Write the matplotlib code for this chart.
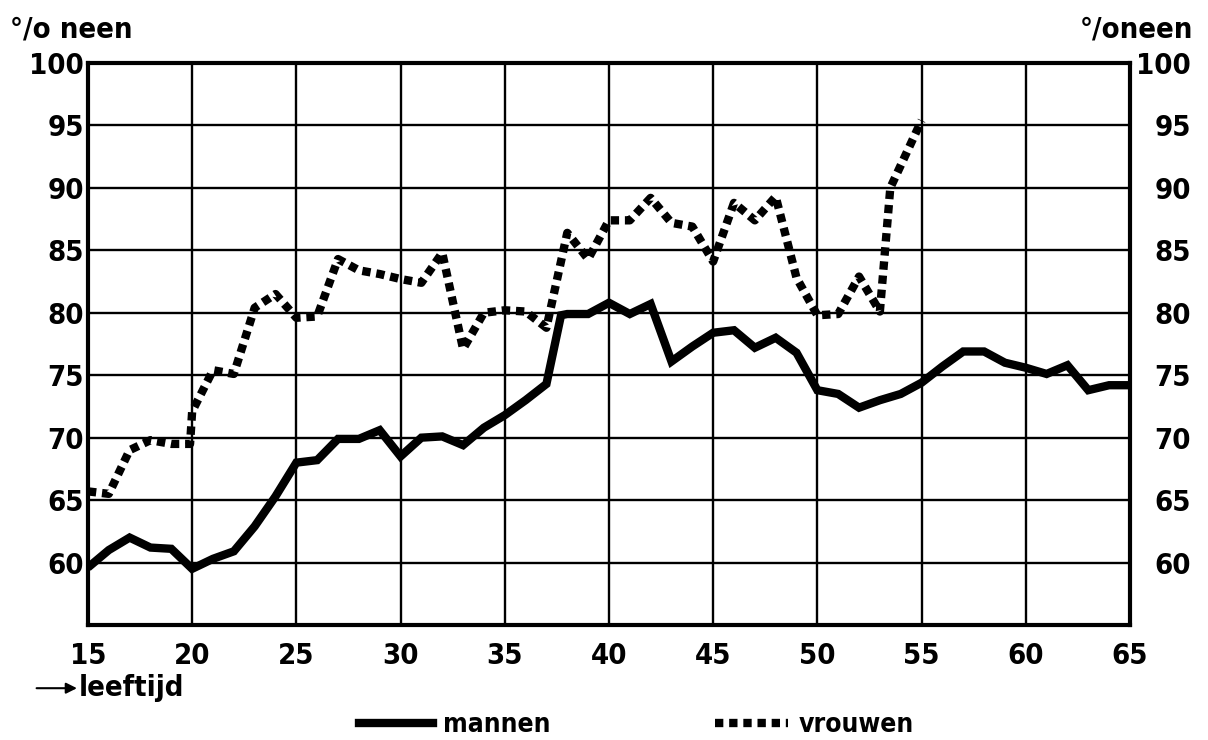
"""Percentage 'neen' by age, men versus women."""

import matplotlib.pyplot as plt
from matplotlib.lines import Line2D

# ages; a few fractional ages mark the steep jumps
ages_men = [15, 16, 17, 18, 19, 20, 21, 22, 23, 24, 25, 26, 27, 28, 29, 30,
            31, 32, 33, 34, 35, 36, 37, 37.7, 38, 39, 40, 41, 42, 43, 44, 45,
            46, 47, 48, 49, 50, 51, 52, 53, 54, 55, 56, 57, 58, 59, 60, 61,
            62, 63, 64, 65]
pct_men = [59.6, 61.0, 62.0, 61.2, 61.1, 59.5, 60.3, 60.9, 62.9, 65.3, 68.0,
           68.2, 69.9, 69.9, 70.6, 68.5, 70.0, 70.1, 69.4, 70.8, 71.8, 73.0,
           74.3, 79.8, 79.9, 79.9, 80.8, 79.9, 80.7, 76.1, 77.3, 78.4, 78.6,
           77.2, 78.0, 76.8, 73.8, 73.5, 72.4, 73.0, 73.5, 74.4, 75.7, 76.9,
           76.9, 76.0, 75.6, 75.1, 75.8, 73.8, 74.2, 74.2]

ages_women = [15, 16, 17, 18, 19, 19.9, 20, 21, 22, 23, 24, 25, 26, 27, 28,
              29, 30, 31, 32, 33, 34, 35, 36, 37, 38, 39, 40, 41, 42, 43, 44,
              45, 46, 47, 48, 49, 50, 51, 52, 53, 53.5, 54, 55]
pct_women = [65.7, 65.5, 69.0, 69.8, 69.5, 69.5, 72.1, 75.4, 75.1, 80.4, 81.5,
             79.6, 79.7, 84.3, 83.4, 83.1, 82.7, 82.4, 84.8, 77.1, 80.0, 80.2,
             80.1, 78.8, 86.4, 84.3, 87.4, 87.4, 89.2, 87.2, 86.9, 84.1, 88.8,
             87.4, 89.3, 82.8, 79.8, 79.9, 82.9, 80.1, 90.0, 91.8, 95.4]

x_ticks = list(range(15, 66, 5))
y_ticks = list(range(60, 101, 5))

plt.rcParams["font.family"] = ["DejaVu Sans"]
plt.rcParams["font.stretch"] = "condensed"
plt.rcParams["font.weight"] = "bold"

fig = plt.figure(figsize=(12.08, 7.4), dpi=100)
ax = fig.add_axes([0.0728, 0.1554, 0.8626, 0.7595])

ax.plot(ages_men, pct_men, color="black", lw=6.0, solid_joinstyle="miter",
        solid_capstyle="butt", zorder=3)
ax.plot(ages_women, pct_women, color="black", lw=6.0, ls=(0, (1.0, 0.7)),
        dash_capstyle="butt", zorder=3)

ax.set_xlim(15, 65)
ax.set_ylim(55, 100)
ax.set_xticks(x_ticks)
ax.set_yticks(y_ticks)
ax.grid(True, color="black", lw=1.7)
ax.set_axisbelow(True)
for s in ax.spines.values():
    s.set_linewidth(3.0)
ax.tick_params(axis="both", length=0, labelsize=21)
ax.tick_params(axis="x", pad=12)
ax.tick_params(axis="y", pad=3)

# right-hand scale, labels set flush right
ax2 = ax.twinx()
ax2.set_ylim(ax.get_ylim())
ax2.set_yticks(y_ticks)
ax2.tick_params(axis="y", length=0, labelsize=21, pad=44)
for lbl in ax2.get_yticklabels():
    lbl.set_horizontalalignment("right")
for s in ax2.spines.values():
    s.set_visible(False)

fig.text(0.008, 0.96, "°/o neen", fontsize=21, ha="left", va="center")
fig.text(0.988, 0.96, "°/oneen", fontsize=21, ha="right", va="center")

# leeftijd arrow
fig.text(0.065, 0.07, "leeftijd", fontsize=21, ha="left", va="center")
ax.annotate("", xy=(0.066, 0.07), xytext=(0.028, 0.07),
            xycoords="figure fraction",
            arrowprops=dict(arrowstyle="-|>", color="black", lw=1.5,
                            mutation_scale=16))

handles = [Line2D([], [], color="black", lw=6.0),
           Line2D([], [], color="black", lw=6.0, ls=(0, (1.0, 0.7)))]
fig.legend(handles, ["mannen", "vrouwen"], loc="center",
           bbox_to_anchor=(0.527, 0.02), ncol=2, frameon=False, fontsize=19,
           handlelength=2.8, columnspacing=6.2, handletextpad=0.4)

fig.savefig("out.png", dpi=100)
